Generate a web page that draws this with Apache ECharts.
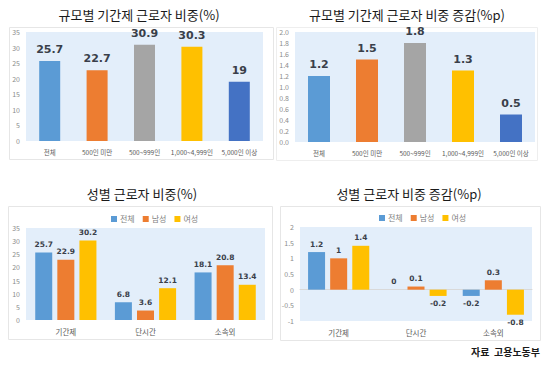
<!DOCTYPE html>
<html><head><meta charset="utf-8">
<script src="https://cdn.jsdelivr.net/npm/echarts@6/dist/echarts.min.js"></script>
<style>html,body{margin:0;padding:0;background:#fff}#c{width:550px;height:369px}</style>
</head><body><div id="c"></div>
<script>
// ---- data ----
const sizeCategories = ['전체', '500인 미만', '500~999인', '1,000~4,999인', '5,000인 이상'];
const sizeShare = [25.7, 22.7, 30.9, 30.3, 19];
const sizeChange = [1.2, 1.5, 1.8, 1.3, 0.5];
const genderCategories = ['기간제', '단시간', '소속외'];
const seriesNames = ['전체', '남성', '여성'];
const shareTotal = [25.7, 6.8, 18.1];
const shareMale = [22.9, 3.6, 20.8];
const shareFemale = [30.2, 12.1, 13.4];
const changeTotal = [1.2, 0, -0.2];
const changeMale = [1, 0.1, 0.3];
const changeFemale = [1.4, -0.2, -0.8];
const titles = ['규모별 기간제 근로자 비중(%)', '규모별 기간제 근로자 비중 증감(%p)', '성별 근로자 비중(%)', '성별 근로자 비중 증감(%p)'];
const sourceNote = '자료  고용노동부';

// ---- styles ----
const FONT = 'Noto Sans CJK KR';
const sizeColors = ['#5B9BD5', '#ED7D31', '#A5A5A5', '#FFC000', '#4472C4'];
const genderColors = ['#5B9BD5', '#ED7D31', '#FFC000'];
const plotBg = '#E3EEFA';

const chart = echarts.init(document.getElementById('c'), null, {renderer: 'svg'});

function yAxis(idx, min, max, interval, fmt) {
  return {
    type: 'value', gridIndex: idx, min, max, interval,
    axisLine: {show: false}, axisTick: {show: false}, splitLine: {show: false},
    axisLabel: {fontSize: 7, color: '#8c8c8c', fontFamily: FONT, margin: 6, formatter: fmt}
  };
}
function xAxis(idx, data, lineShow, fs) {
  return {
    type: 'category', gridIndex: idx, data,
    axisTick: {show: false},
    axisLine: {show: lineShow, lineStyle: {color: '#d9d9d9'}},
    axisLabel: {fontSize: fs, color: '#595959', fontFamily: FONT, margin: 8, interval: 0}
  };
}
const bigLabel = {show: true, position: 'top', fontSize: 11, fontWeight: 'bold', color: '#3a3f4a', fontFamily: 'DejaVu Sans', distance: 6};
const smallLabel = {show: true, position: 'top', fontSize: 7.5, fontWeight: 'bold', color: '#3a3f4a', fontFamily: 'DejaVu Sans', distance: 4};

function signedData(vals) {
  return vals.map(v => ({value: v, label: {position: v < 0 ? 'bottom' : 'top'}}));
}

const titleOpts = [
  {x: 139, y: 8, t: titles[0]},
  {x: 407, y: 8, t: titles[1]},
  {x: 142, y: 187, t: titles[2]},
  {x: 409, y: 187, t: titles[3]}
].map(o => ({text: o.t, left: o.x, top: o.y, textAlign: 'center', padding: 0,
  textStyle: {fontSize: 13, fontWeight: 'normal', color: '#1a1a1a', fontFamily: FONT}}));

const option = {
  animation: false,
  backgroundColor: '#fff',
  title: titleOpts,
  graphic: [
    {type: 'rect', shape: {x: 9.5, y: 27.5, width: 264, height: 132}, style: {fill: 'none', stroke: '#e6e6e6', lineWidth: 1}, z: -10},
    {type: 'rect', shape: {x: 276.5, y: 27.5, width: 261, height: 133}, style: {fill: 'none', stroke: '#eeeeee', lineWidth: 1}, z: -10},
    {type: 'rect', shape: {x: 8.5, y: 206.5, width: 264, height: 133}, style: {fill: 'none', stroke: '#e6e6e6', lineWidth: 1}, z: -10},
    {type: 'rect', shape: {x: 280.5, y: 206.5, width: 260, height: 134}, style: {fill: 'none', stroke: '#e6e6e6', lineWidth: 1}, z: -10},
    {type: 'text', right: 10, top: 346, style: {text: sourceNote, fontSize: 10, fontWeight: 'bold', fill: '#1a1a1a', fontFamily: FONT}}
  ],
  legend: [
    {data: seriesNames, left: 106, top: 210, itemWidth: 6, itemHeight: 6, itemGap: 8, icon: 'rect',
      textStyle: {fontSize: 8, color: '#7f7f7f', fontFamily: FONT, padding: [0, 0, 0, -2]}},
    {data: seriesNames, left: 374, top: 209, itemWidth: 6, itemHeight: 6, itemGap: 8, icon: 'rect',
      textStyle: {fontSize: 8, color: '#7f7f7f', fontFamily: FONT, padding: [0, 0, 0, -2]}}
  ],
  grid: [
    {left: 26, top: 32, width: 237, height: 109, show: true, backgroundColor: plotBg, borderWidth: 0},
    {left: 295, top: 32, width: 240, height: 110, show: true, backgroundColor: plotBg, borderWidth: 0},
    {left: 26, top: 228, width: 239, height: 92, show: true, backgroundColor: plotBg, borderWidth: 0},
    {left: 300, top: 227, width: 232, height: 94, show: true, backgroundColor: plotBg, borderWidth: 0}
  ],
  xAxis: [
    xAxis(0, sizeCategories, false, 6.5),
    xAxis(1, sizeCategories, false, 6.5),
    xAxis(2, genderCategories, false, 7.5),
    Object.assign(xAxis(3, genderCategories, true, 7.5), {axisLabel: {fontSize: 7.5, color: '#595959', fontFamily: FONT, margin: 8, interval: 0}})
  ],
  yAxis: [
    yAxis(0, 0, 35, 5),
    yAxis(1, 0, 2, 0.2, v => v.toFixed(1)),
    yAxis(2, 0, 35, 5),
    yAxis(3, -1, 2, 0.5)
  ],
  series: [
    {type: 'bar', xAxisIndex: 0, yAxisIndex: 0, barWidth: 21, colorBy: 'data', color: sizeColors,
      data: sizeShare, label: bigLabel},
    {type: 'bar', xAxisIndex: 1, yAxisIndex: 1, barWidth: 22, colorBy: 'data', color: sizeColors,
      data: sizeChange, label: bigLabel},
    {name: seriesNames[0], type: 'bar', xAxisIndex: 2, yAxisIndex: 2, barWidth: 17, barGap: '30%', color: genderColors[0], data: shareTotal, label: smallLabel},
    {name: seriesNames[1], type: 'bar', xAxisIndex: 2, yAxisIndex: 2, barWidth: 17, barGap: '30%', color: genderColors[1], data: shareMale, label: smallLabel},
    {name: seriesNames[2], type: 'bar', xAxisIndex: 2, yAxisIndex: 2, barWidth: 17, barGap: '30%', color: genderColors[2], data: shareFemale, label: smallLabel},
    {name: seriesNames[0], type: 'bar', xAxisIndex: 3, yAxisIndex: 3, barWidth: 17, barGap: '30%', color: genderColors[0], data: signedData(changeTotal), label: smallLabel},
    {name: seriesNames[1], type: 'bar', xAxisIndex: 3, yAxisIndex: 3, barWidth: 17, barGap: '30%', color: genderColors[1], data: signedData(changeMale), label: smallLabel},
    {name: seriesNames[2], type: 'bar', xAxisIndex: 3, yAxisIndex: 3, barWidth: 17, barGap: '30%', color: genderColors[2], data: signedData(changeFemale), label: smallLabel}
  ]
};
chart.setOption(option);
</script>
</body></html>
